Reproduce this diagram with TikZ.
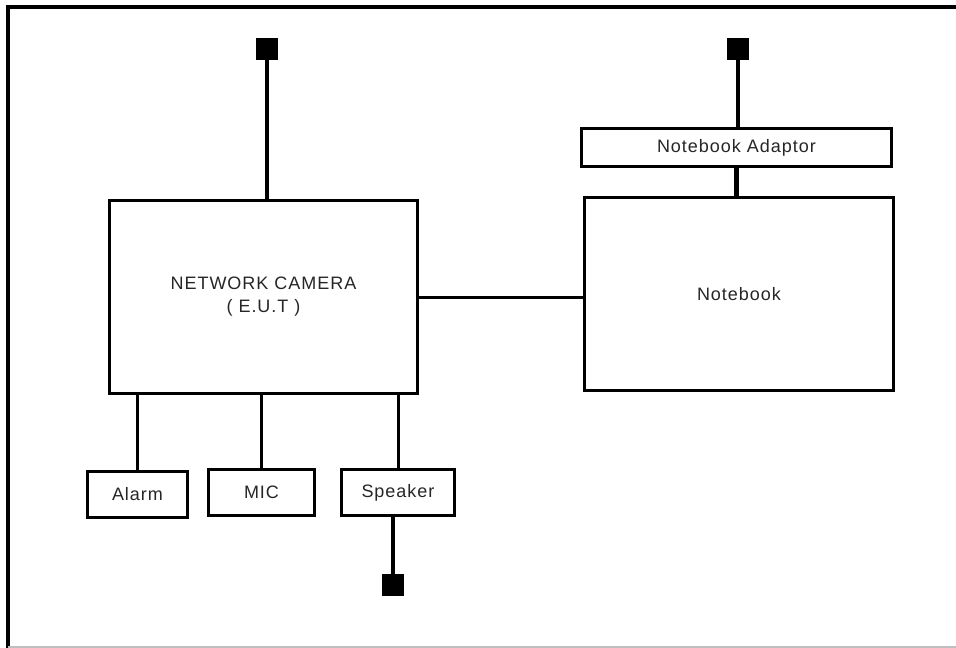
\documentclass[tikz,border=0pt]{standalone}
\usepackage{fontspec}
\setmainfont{Liberation Sans}[LetterSpace=5.5]
\begin{document}
\begin{tikzpicture}[
    x=1pt, y=-1pt,
    box/.style={rectangle, draw, line width=3.4pt, inner sep=0pt, align=center,
        text=black!85, font=\fontsize{18}{23}\selectfont},
    plug/.style={rectangle, fill=black, inner sep=0pt, minimum size=22pt},
    cable/.style={line width=4.4pt},
    link/.style={line width=3pt}
]
\useasboundingbox (0,0) rectangle (956,648);

% Frame
\draw[line width=3.4pt] (8,648) -- (8,7) -- (956,7);
\draw[gray!50, line width=1.5pt] (8,647) -- (956,647);

% Nodes
\node (cam) [box, minimum width=308pt, minimum height=193pt] at (263.5,297)
    {NETWORK CAMERA\\( E.U.T )};
\node (nb) [box, minimum width=309pt, minimum height=193pt] at (739,294)
    {Notebook};
\node (adp) [box, minimum width=310pt, minimum height=38pt] at (736.5,147.5)
    {Notebook Adaptor};
\node (alarm) [box, minimum width=100pt, minimum height=46pt] at (137.5,494.5)
    {Alarm};
\node (mic) [box, minimum width=106pt, minimum height=46pt] at (261.5,492.5)
    {MIC};
\node (spk) [box, minimum width=113pt, minimum height=46pt] at (398,492.5)
    {Speaker};

% Plugs
\node (camplug) [plug] at (267,49) {};
\node (adpplug) [plug] at (738,49) {};
\node (spkplug) [plug] at (393,585) {};

% Cables
\draw [cable] (camplug) -- (camplug |- cam.north);
\draw [cable] (adpplug) -- (adpplug |- adp.north);
\draw [cable] (adp.south) -- (adp.south |- nb.north);
\draw [cable] (spkplug |- spk.south) -- (spkplug);

% Links
\draw [link] (cam.east) -- (cam.east -| nb.west);
\draw [link] (alarm.north) -- (alarm.north |- cam.south);
\draw [link] (mic.north) -- (mic.north |- cam.south);
\draw [link] (spk.north) -- (spk.north |- cam.south);

\end{tikzpicture}
\end{document}
